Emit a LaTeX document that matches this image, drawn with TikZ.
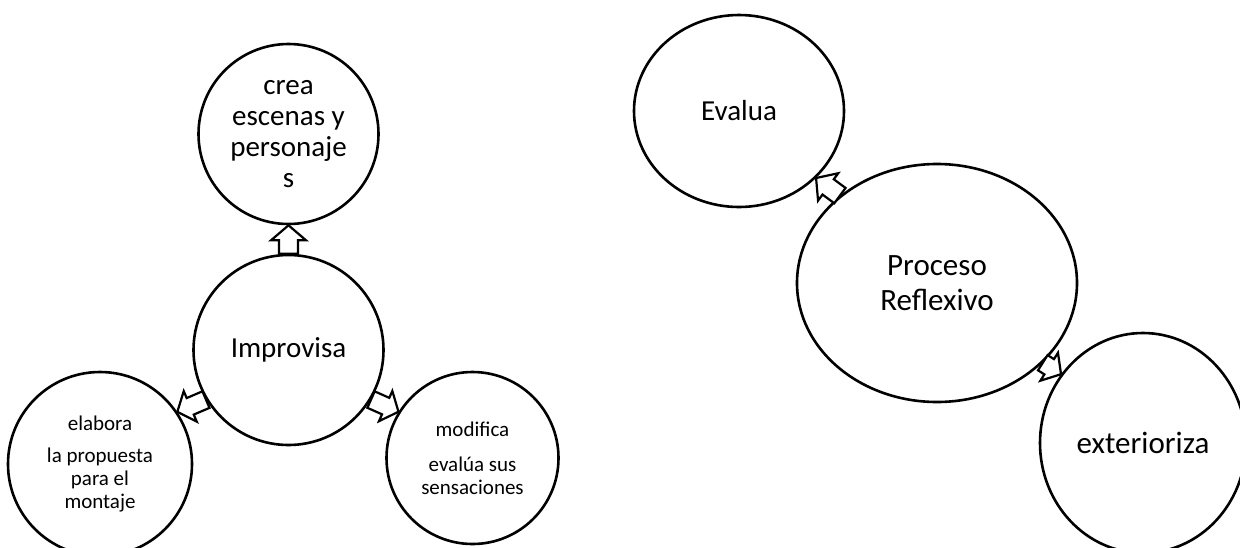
\documentclass[tikz,border=0pt]{standalone}
\usepackage{fontspec}
\setmainfont{Carlito}
\usetikzlibrary{calc,shapes.geometric}
\tikzset{
  bubble/.style={ellipse, draw, line width=2.6pt, inner sep=0pt, align=center},
  bigtxt/.style={font=\fontsize{29}{31}\selectfont},
  hugetxt/.style={font=\fontsize{31}{35}\selectfont},
  smalltxt/.style={font=\fontsize{21}{23}\selectfont},
  arrowbox/.style={draw, fill=white, line width=2.2pt, line join=miter},
}
% block arrow: #1 tail, #2 tip, #3 half shaft width, #4 half head width, #5 head length
\newcommand\blockarrow[5]{%
  \coordinate (ba-base) at ($(#2)!#5!(#1)$);
  \draw[arrowbox] ($(#1)!#3!90:(#2)$) -- ($(ba-base)!#3!90:(#2)$)
    -- ($(ba-base)!#4!90:(#2)$) -- (#2) -- ($(ba-base)!#4!-90:(#2)$)
    -- ($(ba-base)!#3!-90:(#2)$) -- ($(#1)!#3!-90:(#2)$) -- cycle;
}
\begin{document}
\begin{tikzpicture}[x=1pt,y=-1pt]
\useasboundingbox (0,0) rectangle (1240,547);
\fill[white] (0,0) rectangle (1240,547);
\clip (0,0) rectangle (1240,547);

% left group
\node[bubble, bigtxt, minimum width=180pt, minimum height=180pt] (crea) at (288.5,134) {crea\\escenas y\\personaje\\s};
\node[bubble, bigtxt, minimum width=190pt, minimum height=190pt] (impro) at (288.5,350) {Improvisa};
\node[bubble, smalltxt, minimum width=184pt, minimum height=184pt] (elab) at (100,464) {elabora\\[9pt]la propuesta\\para el\\montaje};
\node[bubble, smalltxt, minimum width=172pt, minimum height=172pt] (modif) at (472.5,458) {modifica\\[12pt]evalúa sus\\sensaciones};

% right group
\node[bubble, bigtxt, minimum width=210pt, minimum height=192pt] (eval) at (739,111) {Evalua};
\node[bubble, hugetxt, minimum width=280pt, minimum height=238pt] (proc) at (937,283) {Proceso\\Reflexivo};
\node[bubble, hugetxt, minimum width=206pt, minimum height=220pt] (exter) at (1143,443) {exterioriza};

% block arrows
\blockarrow{impro.90}{crea.-90}{9.5pt}{17.5pt}{15pt}
\blockarrow{impro.211}{elab.34}{9pt}{16.5pt}{14pt}
\blockarrow{impro.-31}{modif.148}{9pt}{16.5pt}{14pt}
\blockarrow{proc.138}{eval.-41}{9.5pt}{17pt}{15pt}
\blockarrow{proc.-37.7}{exter.140}{9pt}{16.5pt}{14pt}
\end{tikzpicture}
\end{document}
